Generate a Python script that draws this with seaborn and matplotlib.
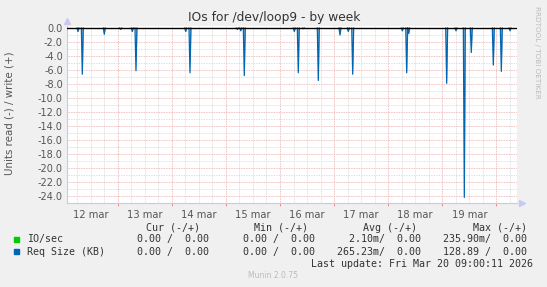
import matplotlib
matplotlib.use("Agg")
import matplotlib.pyplot as plt
from matplotlib.patches import Rectangle
import numpy as np
import pandas as pd
import seaborn as sns

# ---- data (x in days of March: 13.0 = 13 mar 00:00) ----
spike_days = [12.266, 12.346, 12.752, 13.055, 13.270, 13.338, 14.257, 14.336,
              15.211, 15.274, 15.340, 16.264, 16.338, 16.431, 16.708, 17.109,
              17.262, 17.344, 18.261, 18.342, 18.379, 19.081, 19.253, 19.407,
              19.536, 19.943, 20.091, 20.252]
spike_vals = [-0.5, -6.6, -0.9, -0.2, -0.5, -6.1, -0.5, -6.4,
              -0.2, -0.4, -6.8, -0.5, -6.4, -0.1, -7.5, -1.0,
              -0.5, -6.6, -0.4, -6.4, -0.8, -7.9, -0.4, -24.2,
              -3.5, -5.3, -6.2, -0.4]
day_ticks = [12.5, 13.5, 14.5, 15.5, 16.5, 17.5, 18.5, 19.5]
day_labels = ["12 mar", "13 mar", "14 mar", "15 mar", "16 mar", "17 mar", "18 mar", "19 mar"]
y_ticks = [0, -2, -4, -6, -8, -10, -12, -14, -16, -18, -20, -22, -24]
x_start, x_end = 12.063, 20.381

legend_names = ["IO/sec", "Req Size (KB)"]
legend_colors = ["#00CC00", "#0066B3"]
cur_vals = ["0.00 /  0.00", "0.00 /  0.00"]
min_vals = ["0.00 /  0.00", "0.00 /  0.00"]
avg_vals = ["2.10m/  0.00", "265.23m/  0.00"]
max_vals = ["235.90m/  0.00", "128.89 /  0.00"]

# ---- build plotting frame ----
w = 0.018
rows = []
for i, (d, v) in enumerate(zip(spike_days, spike_vals)):
    rows += [(d - w, 0.0, i), (d, v, i), (d + w, 0.0, i)]
df = pd.DataFrame(rows, columns=["day", "val", "spike"])

W, H = 547, 287
fig = plt.figure(figsize=(W / 100, H / 100), dpi=100, facecolor="#F0F0F0")
def fx(x): return x / W
def fy(y): return 1 - y / H

ax = fig.add_axes([fx(67), fy(203), fx(517) - fx(67), fy(25.9) - fy(203)])
ax.set_facecolor("white")

ax.set_xlim(x_start, x_end)
ax.set_ylim(-25.0, 0.3)

# grid
for d in np.arange(12.25, 20.4, 0.25):
    if abs(d - round(d)) < 1e-6:
        continue
    ax.axvline(d, color="#D6D6D6", lw=0.6, ls=(0, (1, 1)), zorder=0)
for y in range(-25, 1):
    if y % 2 != 0:
        ax.axhline(y, color="#D6D6D6", lw=0.6, ls=(0, (1, 1)), zorder=0)
for d in range(13, 21):
    ax.axvline(d, color="#EBAAAA", lw=0.6, ls=(0, (1, 1)), zorder=0.5)
for y in y_ticks:
    ax.axhline(y, color="#EBAAAA", lw=0.6, ls=(0, (1, 1)), zorder=0.5)

# data
for i, g in df.groupby("spike"):
    ax.fill_between(g["day"], g["val"], 0, color="#0066B3", alpha=0.45, lw=0, zorder=2)
sns.lineplot(data=df, x="day", y="val", units="spike", estimator=None,
             color="#0066B3", lw=0.9, ax=ax, zorder=3, legend=False)
ax.axhline(0, color="black", lw=1.0, zorder=4)

ax.set_xlabel("")
ax.set_ylabel("")
ax.set_yticks(y_ticks)
ax.set_yticklabels([f"{v:.1f}" for v in y_ticks], fontsize=7, color="#555555")
ax.set_xticks(day_ticks)
ax.set_xticklabels(day_labels, fontsize=7.1, color="#555555")
ax.set_xticks(list(range(13, 21)), minor=True)
ax.tick_params(axis="x", which="major", length=0, pad=5)
ax.tick_params(axis="x", which="minor", length=2, width=0.6, color="#E08080")
ax.tick_params(axis="y", length=0, pad=3)
for s in ["top", "right"]:
    ax.spines[s].set_visible(False)
for s in ["left", "bottom"]:
    ax.spines[s].set_color("#C8C8F0")
    ax.spines[s].set_linewidth(0.8)
# axis arrows
ax.plot([0], [1.03], marker="^", color="#C8C8F0", ms=4, clip_on=False, transform=ax.transAxes)
ax.plot([1.01], [0], marker=">", color="#C8C8F0", ms=4, clip_on=False, transform=ax.transAxes)

# texts
fig.text(fx(273.7), fy(18), "IOs for /dev/loop9 - by week", ha="center", va="center",
         fontsize=8.8, color="#333333")
fig.text(fx(10), fy(113), "Units read (-) / write (+)", rotation=90, ha="center", va="center",
         fontsize=7.4, color="#555555")
fig.text(fx(537), fy(52), "RRDTOOL / TOBI OETIKER", rotation=270, ha="center", va="center",
         fontsize=5.2, color="#BBBBBB")

mono = dict(family="DejaVu Sans Mono", fontsize=7.2, color="#333333", va="center")
fig.text(fx(200), fy(227.7), "Cur (-/+)", ha="right", **mono)
fig.text(fx(308), fy(227.7), "Min (-/+)", ha="right", **mono)
fig.text(fx(417), fy(227.7), "Avg (-/+)", ha="right", **mono)
fig.text(fx(527), fy(227.7), "Max (-/+)", ha="right", **mono)
row_y = [239.3, 251.7]
for i in range(2):
    fig.add_artist(Rectangle((fx(14), fy(row_y[i] + 2.5)), 5 / W, 5 / H,
                             transform=fig.transFigure, color=legend_colors[i]))
    fig.text(fx(26.7), fy(row_y[i]), legend_names[i], ha="left", **mono)
    fig.text(fx(209), fy(row_y[i]), cur_vals[i], ha="right", **mono)
    fig.text(fx(315), fy(row_y[i]), min_vals[i], ha="right", **mono)
    fig.text(fx(421), fy(row_y[i]), avg_vals[i], ha="right", **mono)
    fig.text(fx(527), fy(row_y[i]), max_vals[i], ha="right", **mono)
fig.text(fx(532.7), fy(264), "Last update: Fri Mar 20 09:00:11 2026", ha="right", **mono)
fig.text(fx(273), fy(275.7), "Munin 2.0.75", ha="center", va="center", fontsize=5.5, color="#BBBBBB")

fig.savefig("out.png", dpi=100, facecolor=fig.get_facecolor())
